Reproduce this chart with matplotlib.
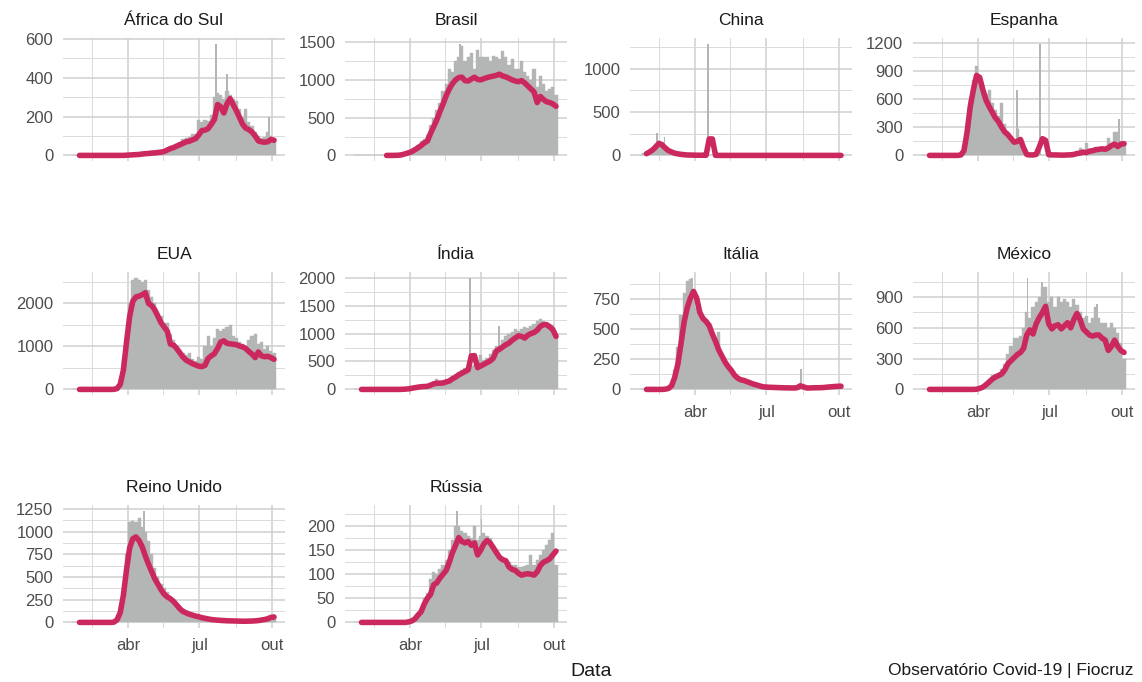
import matplotlib
matplotlib.use("Agg")
import matplotlib.pyplot as plt
import numpy as np
import pandas as pd

plt.rcParams['font.family'] = ['Liberation Sans', 'DejaVu Sans']

# daily deaths, one value every 4 days starting 22 Jan 2020
# (single-day outliers are kept apart as "spikes")
BAR_START = "2020-01-22"

africa_bars = [0] * 17 + [2, 3, 4, 5, 7, 9, 11, 12, 14, 16, 18, 22, 28, 40, 50, 55, 60, 70, 85, 88,
                          95, 110, 110, 180, 170, 180, 175, 210, 300, 320, 310, 290, 330, 310, 290, 280,
                          240, 200, 240, 170, 150, 120, 100, 90, 95, 120, 100, 85]
africa_line_start = "2020-01-30"
africa_line = [0] * 15 + [1, 2, 3, 4, 5, 7, 9, 10, 12, 13, 15, 17, 20, 28, 35, 40, 48, 55, 62, 70,
                          73, 80, 86, 105, 128, 130, 138, 160, 185, 262, 250, 218, 265, 292, 260, 230,
                          195, 160, 140, 132, 120, 100, 75, 70, 68, 70, 82, 78]
africa_spikes = [("2020-07-22", 575), ("2020-08-05", 420), ("2020-09-28", 200)]

brasil_bars = [0] * 15 + [15, 30, 45, 70, 100, 140, 190, 220, 270, 400, 500, 600, 700, 850, 950,
                          1150, 1100, 1250, 1300, 1450, 1250, 1300, 1350, 1150, 1400, 1300, 1300, 1300,
                          1250, 1310, 1300, 1280, 1380, 1300, 1200, 1280, 1150, 1150, 1250, 1100, 1050,
                          1000, 1150, 900, 1050, 950, 850, 880, 900, 800]
brasil_line_start = "2020-03-02"
brasil_line = [0, 0, 0, 1, 3, 10, 22, 35, 50, 75, 100, 130, 165, 190, 290, 380, 470, 580, 680, 790,
               880, 950, 1000, 1030, 1035, 990, 985, 1010, 1035, 1005, 1000, 1015, 1030, 1040, 1050,
               1060, 1075, 1050, 1040, 1020, 1000, 985, 975, 990, 960, 920, 880, 840, 700, 780,
               740, 710, 700, 680, 650]
brasil_spikes = [("2020-06-04", 1480)]

china_bars = [5, 25, 45, 60, 90, 130, 150, 150, 110, 60, 40, 30, 20, 12, 10, 6, 5, 4, 3, 2, 1] + [0] * 44
china_line_start = "2020-01-30"
china_line = [20, 40, 65, 100, 140, 120, 85, 55, 40, 25, 18, 12, 8, 5, 4, 3, 2, 2, 2, 2,
              190, 190, 1] + [0] * 40
china_spikes = [("2020-02-12", 254), ("2020-02-22", 215), ("2020-04-17", 1290)]

espanha_bars = [0] * 12 + [10, 100, 350, 600, 800, 950, 850, 750, 650, 700, 560, 480, 420, 560, 330,
                           250, 200, 160, 280, 130, 50, 5, 5, 5, 5, 5, 5, 5, 5, 5, 5, 5, 5, 5, 5, 5, 5,
                           20, 80, 40, 130, 50, 60, 90, 70, 80, 90, 190, 120, 245, 245, 150, 130]
espanha_line_start = "2020-01-30"
espanha_line = [0] * 10 + [5, 50, 250, 520, 700, 850, 830, 700, 590, 520, 460, 400, 360, 300, 250,
                           220, 180, 140, 150, 170, 80, 10, 5, 5, 10, 90, 178, 160, 8, 5, 5, 4, 3, 3, 5,
                           6, 10, 20, 25, 35, 30, 45, 50, 60, 65, 70, 65, 80, 105, 120, 95, 120, 125]
espanha_spikes = [("2020-05-21", 700), ("2020-06-19", 1190), ("2020-09-28", 390)]

eua_bars = [0] * 14 + [30, 250, 700, 1300, 2000, 2550, 2600, 2550, 2500, 2550, 2300, 2150, 2000, 1800,
                       1700, 1550, 1550, 1300, 1150, 1000, 900, 850, 800, 850, 700, 650, 750, 700, 1000,
                       1250, 1000, 1200, 1400, 1350, 1400, 1450, 1500, 1250, 1200, 1100, 1050, 1000,
                       1150, 1250, 1300, 1050, 1100, 950, 1000, 900, 850]
eua_line_start = "2020-01-30"
eua_line = [0] * 11 + [2, 20, 120, 450, 1100, 1700, 2050, 2150, 2170, 2200, 2250, 2000, 1950, 1850,
                       1700, 1550, 1450, 1350, 1050, 1030, 950, 850, 750, 680, 640, 600, 570, 540, 530,
                       560, 720, 780, 830, 950, 1100, 1130, 1070, 1060, 1050, 1040, 1010, 990, 950, 880,
                       820, 740, 870, 780, 760, 770, 740, 700]
eua_spikes = []

india_bars = [0] * 15 + [5, 10, 15, 30, 40, 50, 55, 60, 80, 80, 110, 190, 130, 140, 170, 200, 240, 270,
                         310, 340, 380, 330, 420, 440, 470, 620, 520, 560, 640, 700, 780, 800, 880, 950,
                         1000, 1030, 1080, 1050, 1080, 1120, 1100, 1130, 1180, 1230, 1270, 1220, 1180,
                         1180, 1150, 1000]
india_line_start = "2020-01-30"
india_line = [0] * 13 + [2, 5, 10, 20, 30, 40, 48, 52, 55, 75, 100, 110, 112, 115, 135, 150, 190, 220,
                         260, 290, 320, 350, 600, 605, 390, 420, 450, 480, 510, 560, 690, 720, 760, 800,
                         830, 880, 920, 960, 950, 920, 970, 1000, 1020, 1060, 1130, 1160, 1160, 1120,
                         1070, 950]
india_spikes = [("2020-06-16", 2003), ("2020-07-23", 1130)]

italia_bars = [0] * 8 + [5, 10, 40, 160, 350, 620, 800, 900, 920, 800, 680, 610, 600, 580, 550, 480,
                         420, 480, 270, 230, 190, 150, 120, 110, 95, 80, 70, 60, 50, 40, 30, 25, 22, 20,
                         18, 18, 16, 15, 15, 14, 14, 14, 15, 20, 22, 14, 14, 15, 16, 17, 18, 20, 22, 24,
                         26, 28, 30]
italia_line_start = "2020-01-30"
italia_line = [0] * 6 + [2, 8, 30, 100, 210, 380, 560, 680, 760, 815, 760, 640, 590, 565, 530, 460,
                         400, 330, 280, 230, 190, 160, 120, 95, 80, 75, 65, 55, 45, 38, 30, 22, 20, 18,
                         17, 16, 15, 14, 13, 13, 12, 12, 14, 30, 22, 12, 12, 13, 14, 14, 15, 17, 20, 22,
                         24, 26, 27]
italia_spikes = [("2020-03-28", 930), ("2020-08-14", 170)]

mexico_bars = [0] * 17 + [5, 15, 30, 60, 100, 140, 150, 160, 200, 250, 350, 420, 500, 500, 520, 600,
                          750, 700, 800, 850, 900, 1000, 1000, 850, 900, 800, 900, 850, 880, 850, 800,
                          880, 820, 750, 700, 720, 650, 700, 800, 700, 650, 650, 600, 650, 600, 550,
                          450, 300]
mexico_line_start = "2020-01-30"
mexico_line = [0] * 15 + [2, 10, 22, 45, 72, 100, 120, 135, 150, 190, 250, 280, 310, 340, 360, 400,
                          530, 580, 540, 640, 700, 750, 810, 640, 590, 620, 630, 590, 620, 650, 600,
                          680, 740, 680, 590, 560, 530, 520, 530, 530, 500, 480, 380, 420, 480, 420,
                          380, 360]
mexico_spikes = [("2020-06-03", 1090), ("2020-06-21", 1050), ("2020-08-31", 830)]

ru_bars = [0] * 14 + [50, 180, 400, 750, 1100, 1120, 1100, 1150, 1050, 1000, 900, 750, 600, 500, 420,
                      380, 330, 280, 250, 210, 180, 150, 130, 110, 90, 80, 70, 60, 50, 45, 40, 35, 30,
                      25, 22, 20, 20, 18, 17, 15, 15, 15, 16, 18, 20, 25, 30, 38, 50, 65, 70]
ru_line_start = "2020-01-30"
ru_line = [0] * 11 + [3, 30, 110, 300, 580, 820, 920, 940, 900, 830, 730, 640, 560, 480, 420, 360,
                      310, 280, 260, 230, 190, 150, 120, 105, 90, 80, 70, 62, 52, 45, 38, 32, 28, 25,
                      22, 20, 18, 17, 16, 15, 14, 13, 13, 14, 15, 17, 20, 26, 32, 40, 55, 60]
ru_spikes = [("2020-04-21", 1230)]

russia_bars = [0] * 18 + [5, 10, 20, 30, 50, 60, 90, 105, 100, 110, 120, 130, 150, 170, 200, 200, 190,
                          185, 180, 175, 200, 170, 180, 185, 180, 175, 160, 150, 140, 135, 130, 125,
                          120, 120, 115, 115, 118, 120, 140, 120, 130, 140, 150, 160, 170, 185, 120]
russia_line_start = "2020-01-30"
russia_line = [0] * 15 + [1, 3, 7, 15, 22, 38, 50, 58, 78, 82, 92, 100, 108, 125, 145, 160, 176, 168,
                          165, 168, 160, 165, 140, 150, 163, 170, 165, 155, 145, 135, 130, 128, 115,
                          110, 108, 102, 98, 100, 101, 100, 98, 105, 118, 125, 128, 132, 140, 148]
russia_spikes = [("2020-05-31", 232), ("2020-07-01", 215)]

titles = ["África do Sul", "Brasil", "China", "Espanha", "EUA", "Índia", "Itália", "México",
          "Reino Unido", "Rússia"]
yticks = [[0, 200, 400, 600], [0, 500, 1000, 1500], [0, 500, 1000], [0, 300, 600, 900, 1200],
          [0, 1000, 2000], [0, 500, 1000, 1500, 2000], [0, 250, 500, 750], [0, 300, 600, 900],
          [0, 250, 500, 750, 1000, 1250], [0, 50, 100, 150, 200]]
month_ticks = ["2020-04-01", "2020-07-01", "2020-10-01"]
month_labels = ["abr", "jul", "out"]
month_minor = ["2020-02-15", "2020-05-16", "2020-08-16"]

panels = [
    (africa_bars, africa_line_start, africa_line, africa_spikes),
    (brasil_bars, brasil_line_start, brasil_line, brasil_spikes),
    (china_bars, china_line_start, china_line, china_spikes),
    (espanha_bars, espanha_line_start, espanha_line, espanha_spikes),
    (eua_bars, eua_line_start, eua_line, eua_spikes),
    (india_bars, india_line_start, india_line, india_spikes),
    (italia_bars, italia_line_start, italia_line, italia_spikes),
    (mexico_bars, mexico_line_start, mexico_line, mexico_spikes),
    (ru_bars, ru_line_start, ru_line, ru_spikes),
    (russia_bars, russia_line_start, russia_line, russia_spikes),
]

BAR_COL = '#B4B6B6'
LINE_COL = '#CB295D'
GRID_COL = '#CFCFCF'
TXT = '#4D4D4D'

W, H = 1142, 682
fig = plt.figure(figsize=(W / 100, H / 100), dpi=100)
col_left = [63, 345, 630, 913]
row_top = [38, 272, 505]
pw, ph = 222, 123
with_xlabels = {6, 7, 8, 9}

for i, (bars, lstart, line, spikes) in enumerate(panels):
    r, c = divmod(i, 4)
    ax = fig.add_axes([col_left[c] / W, 1 - (row_top[r] + ph) / H, pw / W, ph / H])

    bdates = pd.date_range(BAR_START, periods=len(bars), freq="4D")
    ax.bar(bdates, bars, width=4, color=BAR_COL, edgecolor=BAR_COL, linewidth=0.3, zorder=2)
    if spikes:
        sd = pd.to_datetime([s[0] for s in spikes])
        ax.bar(sd, [s[1] for s in spikes], width=2.2, color=BAR_COL, linewidth=0, zorder=2)
    ldates = pd.date_range(lstart, periods=len(line), freq="4D")
    ax.plot(ldates, line, color=LINE_COL, lw=4.0, solid_capstyle='round',
            solid_joinstyle='round', zorder=3)

    yt = yticks[i]
    step = yt[1] - yt[0]
    ax.set_yticks(yt)
    ax.set_yticks([v + step / 2 for v in [yt[0] - step] + yt], minor=True)
    ax.set_xticks(pd.to_datetime(month_ticks))
    ax.set_xticks(pd.to_datetime(month_minor), minor=True)
    if i in with_xlabels:
        ax.set_xticklabels(month_labels)
    else:
        ax.set_xticklabels([])
    ax.set_yticklabels([str(v) for v in yt])

    # limits last, so the tick calls cannot widen them
    top = max(bars + [s[1] for s in spikes]) * 1.05
    ax.set_ylim(-top * 0.05 / 1.05, top)
    ax.set_xlim(pd.Timestamp("2020-01-09"), pd.Timestamp("2020-10-18"))

    ax.tick_params(which='both', length=0)
    ax.tick_params(axis='y', pad=7, labelsize=12, labelcolor=TXT)
    ax.tick_params(axis='x', pad=7, labelsize=12, labelcolor=TXT)
    ax.grid(which='major', color=GRID_COL, lw=1.1)
    ax.grid(which='minor', color='#DADADA', lw=0.7)
    ax.set_axisbelow(True)
    for s in ax.spines.values():
        s.set_visible(False)
    ax.set_title(titles[i], fontsize=12.5, color='#1A1A1A', pad=9.5)

fig.text(591 / W, 1 - 671 / H, "Data", ha='center', va='center', fontsize=14, color='#1A1A1A')
fig.text(1133 / W, 1 - 671 / H, "Observatório Covid-19 | Fiocruz", ha='right', va='center',
         fontsize=12.5, color='#1A1A1A')

fig.savefig("out.png", dpi=100)
